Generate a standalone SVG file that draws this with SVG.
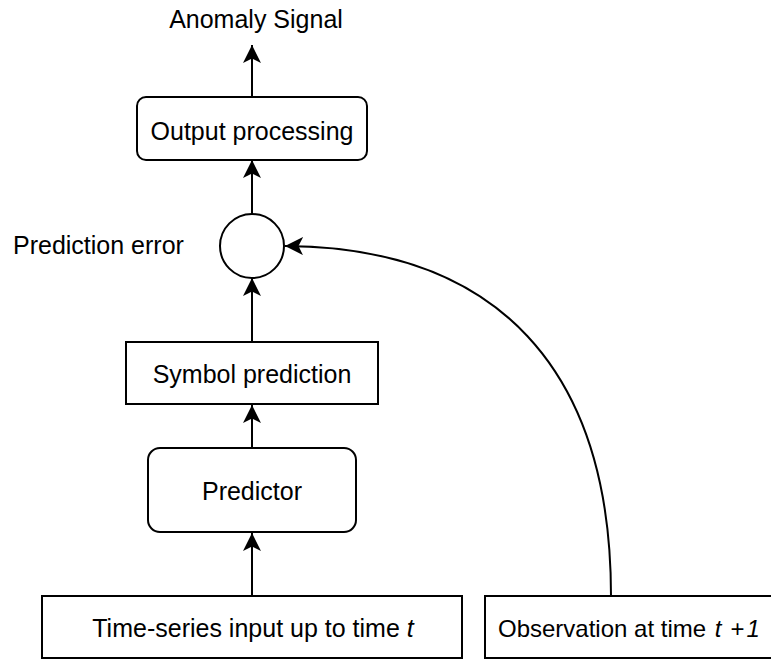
<svg xmlns="http://www.w3.org/2000/svg" width="771" height="660" viewBox="0 0 771 660">
  <style>
    .box { fill: #ffffff; stroke: #000000; stroke-width: 2; }
    .edge { fill: none; stroke: #000000; stroke-width: 2; }
    .lbl { font-family: "Liberation Sans", Arial, Helvetica, sans-serif; font-size: 25px; fill: #000000; }
    .mid { text-anchor: middle; }
    .it { font-style: italic; }
  </style>
  <defs>
    <marker id="arrow" viewBox="0 0 18 18" refX="18" refY="9" markerWidth="18" markerHeight="18" markerUnits="userSpaceOnUse" orient="auto">
      <path d="M0,0 L18,9 L0,18 L4.5,9 Z" fill="#000000"/>
    </marker>
  </defs>
  <rect width="771" height="660" fill="#ffffff"/>

  <!-- connectors -->
  <g id="connectors">
    <line class="edge" x1="252" y1="97" x2="252" y2="45" marker-end="url(#arrow)"/>
    <line class="edge" x1="252" y1="214" x2="252" y2="160" marker-end="url(#arrow)"/>
    <line class="edge" x1="252" y1="342" x2="252" y2="278" marker-end="url(#arrow)"/>
    <line class="edge" x1="252" y1="448" x2="252" y2="405" marker-end="url(#arrow)"/>
    <line class="edge" x1="252" y1="596" x2="252" y2="533" marker-end="url(#arrow)"/>
    <path class="edge" d="M611,596 C611,369 497,247 285,246" marker-end="url(#arrow)"/>
  </g>

  <!-- output label -->
  <g id="anomaly-signal">
    <text class="lbl mid" x="256" y="28">Anomaly Signal</text>
  </g>

  <g id="output-processing">
    <rect class="box" x="137" y="97" width="230" height="63" rx="9" ry="9"/>
    <text class="lbl mid" x="252" y="140">Output processing</text>
  </g>

  <g id="prediction-error">
    <circle class="box" cx="252" cy="246" r="32"/>
    <text class="lbl" x="13" y="254">Prediction error</text>
  </g>

  <g id="symbol-prediction">
    <rect class="box" x="126" y="342" width="252" height="62"/>
    <text class="lbl mid" x="252" y="383">Symbol prediction</text>
  </g>

  <g id="predictor">
    <rect class="box" x="148" y="448" width="208" height="84" rx="12" ry="12"/>
    <text class="lbl mid" x="252" y="500">Predictor</text>
  </g>

  <g id="time-series-input">
    <rect class="box" x="42" y="596" width="420" height="62"/>
    <text class="lbl mid" x="253" y="637">Time-series input up to time <tspan class="it">t</tspan></text>
  </g>

  <g id="observation">
    <rect class="box" x="485" y="596" width="310" height="62"/>
    <text class="lbl" x="498" y="637" style="font-size:24px">Observation at time <tspan class="it" dx="2">t</tspan><tspan dx="9">+</tspan><tspan class="it" dx="2">1</tspan></text>
  </g>
</svg>
